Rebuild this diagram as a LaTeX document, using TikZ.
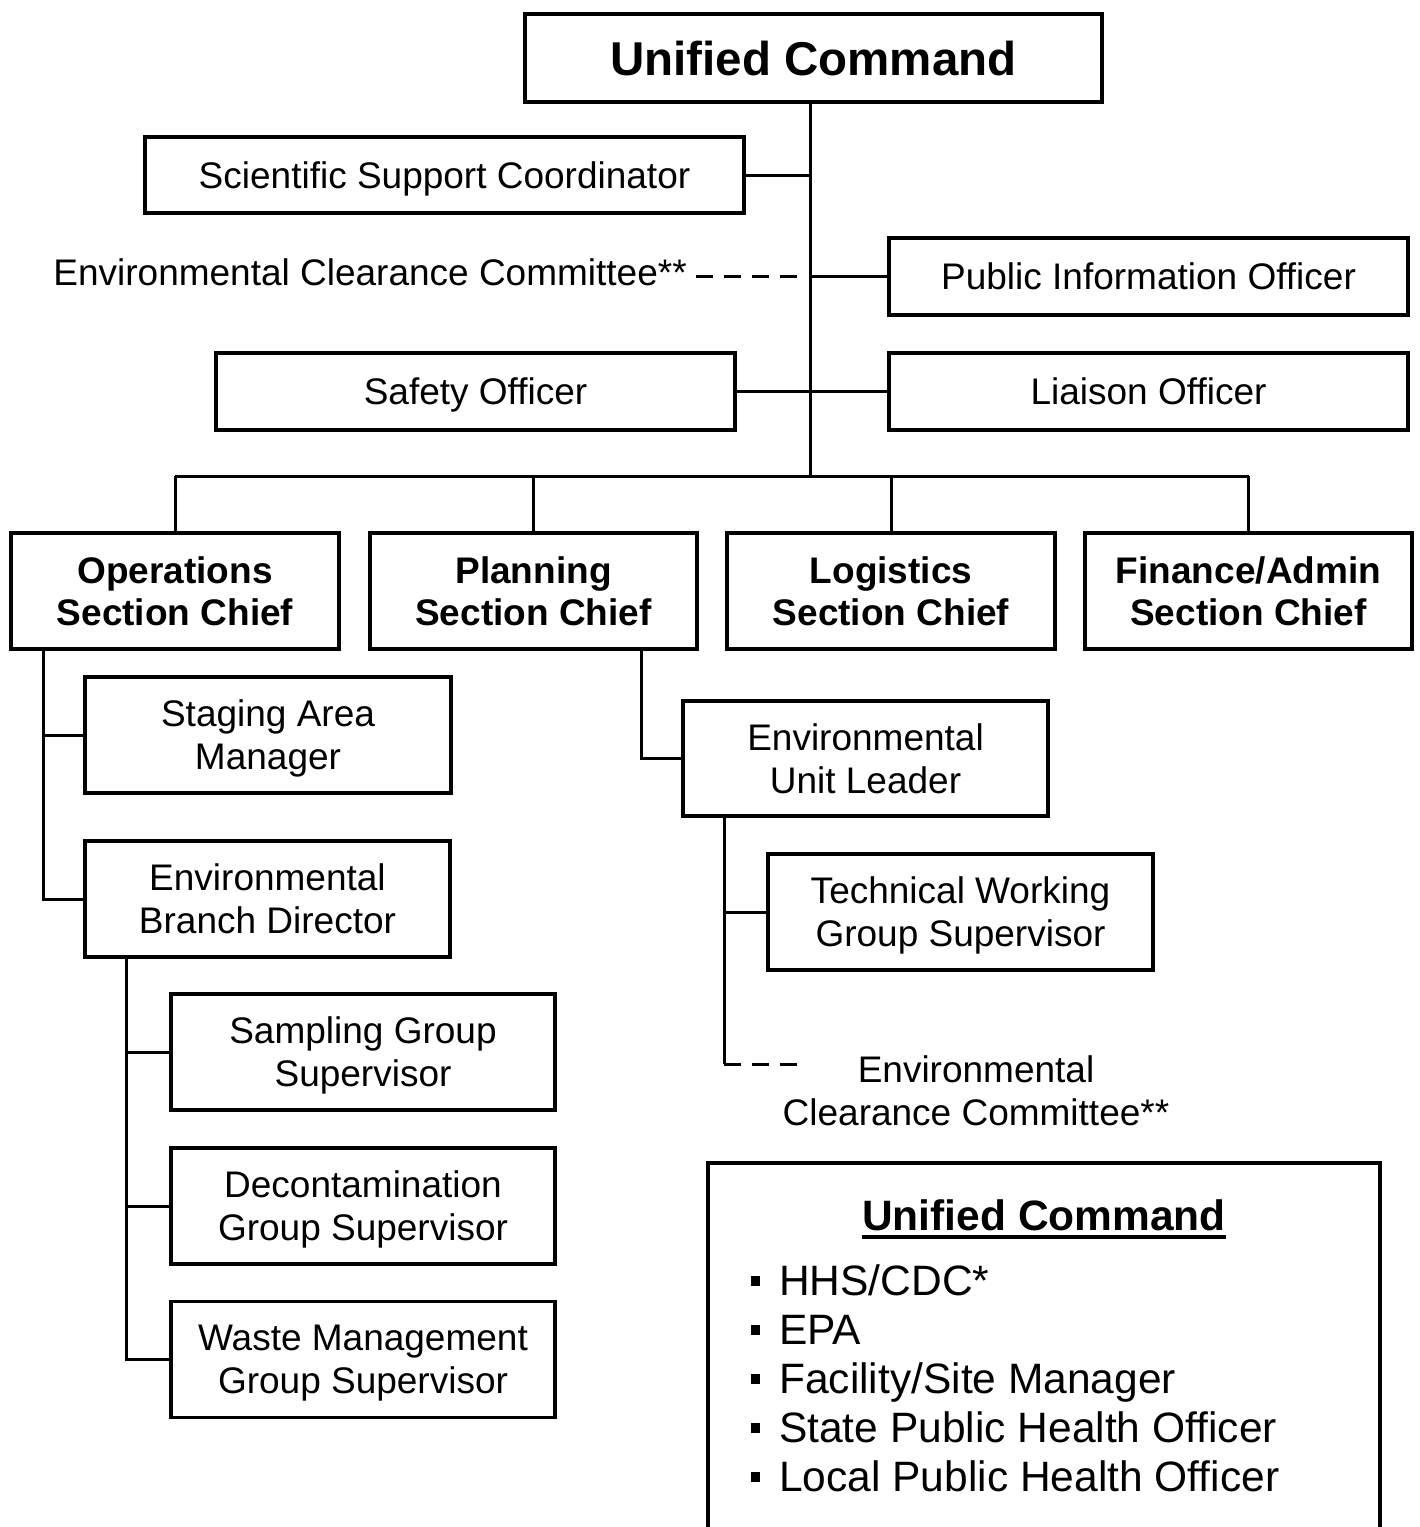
\documentclass[tikz,border=0pt]{standalone}
\usepackage{fontspec}
\setmainfont{Liberation Sans}
\usetikzlibrary{calc}
\newcommand\regf{\fontsize{37}{43}\selectfont}
\newcommand\boldsec{\fontsize{37}{42}\selectfont\bfseries}
\newcommand\titlef{\fontsize{47.5}{52}\selectfont\bfseries}
\newcommand\listf{\fontsize{42.5}{49}\selectfont}
\newcommand\listtitlef{\fontsize{42.5}{49}\selectfont\bfseries}
\begin{document}
\begin{tikzpicture}[x=1pt,y=-1pt,
  box/.style={draw,line width=3.5pt,inner sep=0pt,align=center,font=\regf,text depth=0pt},
  oneline/.style={text height=26.5pt},
  conn/.style={line width=3pt},
  dashconn/.style={line width=3pt,dash pattern=on 17pt off 11pt},
  plain/.style={inner sep=0pt,align=center,font=\regf},
  item/.style={inner sep=0pt,anchor=base west,font=\listf},
  bul/.style={fill=black,minimum width=9pt,minimum height=10pt,inner sep=0pt}]
\useasboundingbox (0,0) rectangle (1420,1527);
% top
\node[box,minimum width=577pt,minimum height=88pt,font=\titlef,text height=34pt] (uc) at (813.5,58) {Unified Command};
\node[box,oneline,minimum width=599pt,minimum height=76pt] (ssc) at (444.5,175) {Scientific Support Coordinator};
\node[box,oneline,minimum width=519pt,minimum height=77pt] (pio) at (1148.5,276.5) {Public Information Officer};
\node[box,oneline,minimum width=519pt,minimum height=77pt] (so) at (475.5,391.5) {Safety Officer};
\node[box,oneline,minimum width=519pt,minimum height=77pt] (lo) at (1148.5,391.5) {Liaison Officer};
\node[plain,anchor=east] (ecc1) at (687,272) {Environmental Clearance Committee**};
% sections
\node[box,minimum width=328pt,minimum height=116pt,font=\boldsec] (ops) at (175,591) {Operations\\Section Chief};
\node[box,minimum width=327pt,minimum height=116pt,font=\boldsec] (plan) at (533.5,591) {Planning\\Section Chief};
\node[box,minimum width=328pt,minimum height=116pt,font=\boldsec] (log) at (891,591) {Logistics\\Section Chief};
\node[box,minimum width=327pt,minimum height=116pt,font=\boldsec] (fin) at (1248.5,591) {Finance/Admin\\Section Chief};
% operations subtree
\node[box,minimum width=366pt,minimum height=116pt] (sam) at (268,735) {Staging Area\\Manager};
\node[box,minimum width=365pt,minimum height=116pt] (ebd) at (267.5,899) {Environmental\\Branch Director};
\node[box,minimum width=384pt,minimum height=116pt] (sgs) at (363,1052) {Sampling Group\\Supervisor};
\node[box,minimum width=384pt,minimum height=116pt] (dgs) at (363,1206) {Decontamination\\Group Supervisor};
\node[box,minimum width=384pt,minimum height=116pt] (wgs) at (363,1359.5) {Waste Management\\Group Supervisor};
% planning subtree
\node[box,minimum width=365pt,minimum height=115pt] (eul) at (865.5,758.5) {Environmental\\Unit Leader};
\node[box,minimum width=385pt,minimum height=116pt] (twg) at (960.5,912) {Technical Working\\Group Supervisor};
\node[plain] (ecc2) at (976,1091) {Environmental\\Clearance Committee**};
% coordinates
\coordinate (trunk) at (810,478);
\coordinate (bus) at (810,476);
\coordinate (eccdash) at (797,276);
\coordinate (opsline) at (43,649);
\coordinate (ebdline) at (126,957);
\coordinate (planline) at (641,649);
\coordinate (eulline) at (724,816);
\coordinate (euldash) at (724,1064);
\coordinate (euldashend) at (799,1064);
% connectors
\draw[conn] (uc.south -| trunk) -- (trunk);
\draw[conn] (ssc.east) -- (ssc.east -| trunk);
\draw[conn] (pio.west) -- (pio.west -| trunk);
\draw[conn] (so.east) -- (lo.west);
\draw[dashconn] ($(ecc1.east)+(9,4)$) -- (eccdash);
\draw[conn] (ops.north |- bus) -- (fin.north |- bus);
\foreach \n in {ops,plan,log,fin} \draw[conn] (\n.north) -- (\n.north |- bus);
\draw[conn] (opsline) |- (ebd.west);
\draw[conn] (sam.west) -- (sam.west -| opsline);
\draw[conn] (ebdline) |- (wgs.west);
\draw[conn] (sgs.west) -- (sgs.west -| ebdline);
\draw[conn] (dgs.west) -- (dgs.west -| ebdline);
\draw[conn] (planline) |- (eul.west);
\draw[conn] (eulline) -- (euldash);
\draw[conn] (twg.west) -- (twg.west -| eulline);
\draw[dashconn] (euldash) -- (euldashend);
% bottom unified command box
\draw[line width=3.5pt] (708,1530) -- (708,1163) -- (1380,1163) -- (1380,1530);
\node[inner sep=0pt,anchor=base,font=\listtitlef] (lt) at (1044,1230) {Unified Command};
\draw[line width=3.5pt] ($(lt.base west)+(0,7)$) -- ($(lt.base east)+(0,7)$);
\node[item] (i1) at (779,1295) {HHS/CDC*};
\node[item] (i2) at (779,1344) {EPA};
\node[item] (i3) at (779,1393) {Facility/Site Manager};
\node[item] (i4) at (779,1442) {State Public Health Officer};
\node[item] (i5) at (779,1491) {Local Public Health Officer};
\foreach \i in {1,...,5} \node[bul] (b\i) at ($(i\i.base west)+(-24,-14)$) {};
\end{tikzpicture}
\end{document}
